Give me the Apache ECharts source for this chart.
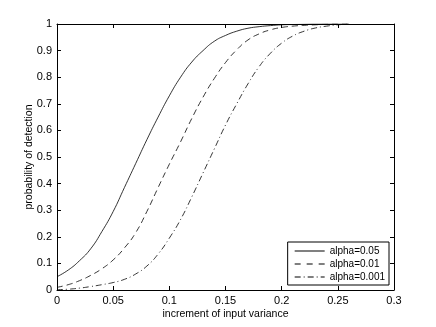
<!DOCTYPE html>
<html>
<head>
<meta charset="utf-8">
<title>probability of detection</title>
<script src="https://cdn.jsdelivr.net/npm/echarts@6/dist/echarts.min.js"></script>
<style>
  html, body { margin: 0; padding: 0; background: #fff; }
  #chart { width: 436px; height: 327px; }
</style>
</head>
<body>
<div id="chart"></div>
<script>
// increment of input variance
var xVals = [0, 0.01, 0.02, 0.03, 0.04, 0.05, 0.06, 0.07, 0.08, 0.09, 0.10, 0.11, 0.12, 0.13,
             0.14, 0.15, 0.16, 0.17, 0.18, 0.19, 0.20, 0.21, 0.22, 0.23, 0.24, 0.25, 0.26];

// probability of detection
var alpha005 = [0.05, 0.075, 0.11, 0.155, 0.22, 0.295, 0.385, 0.475, 0.565, 0.65, 0.73, 0.80, 0.857, 0.90,
                0.935, 0.957, 0.973, 0.984, 0.99, 0.994, 0.997, 0.998, 0.999, 1, 1, 1, 1];
var alpha001 = [0.01, 0.02, 0.035, 0.055, 0.08, 0.113, 0.158, 0.215, 0.295, 0.385, 0.473, 0.557, 0.645, 0.725,
                0.795, 0.855, 0.903, 0.94, 0.963, 0.978, 0.987, 0.992, 0.995, 0.997, 0.999, 1, 1];
var alpha0001 = [0.001, 0.003, 0.007, 0.013, 0.02, 0.028, 0.04, 0.06, 0.09, 0.135, 0.195, 0.265, 0.35, 0.44,
                 0.53, 0.62, 0.70, 0.775, 0.84, 0.89, 0.928, 0.955, 0.973, 0.985, 0.992, 0.997, 1];

var seriesNames = ['alpha=0.05', 'alpha=0.01', 'alpha=0.001'];
var xTicks = ['0', '0.05', '0.1', '0.15', '0.2', '0.25', '0.3'];
var yTicks = ['0', '0.1', '0.2', '0.3', '0.4', '0.5', '0.6', '0.7', '0.8', '0.9', '1'];

// legend line samples (30 x 1 strips: solid, dashed, dash-dot)
var legendIcons = [
    'path://M0 0H30V1H0Z',
    'path://M0 0H6V1H0Z M12 0H18V1H12Z M24 0H30V1H24Z',
    'path://M0 0H6V1H0Z M9 0H10V1H9Z M13 0H19V1H13Z M22 0H23V1H22Z M26 0H30V1H26Z'
];

function pairs(ys) {
    return xVals.map(function (x, i) { return [x, ys[i]]; });
}

var font = 'Liberation Sans, Arial, sans-serif';
var tickStyle = { show: true, inside: true, length: 4, lineStyle: { color: '#000', width: 1 } };

var chart = echarts.init(document.getElementById('chart'), null, { renderer: 'canvas' });

var option = {
    animation: false,
    backgroundColor: '#fff',
    grid: { left: 57, right: 42, top: 24, bottom: 37, containLabel: false },
    xAxis: [{
        type: 'value', min: 0, max: 0.3, interval: 0.05,
        name: 'increment of input variance', nameLocation: 'middle', nameGap: 19,
        nameMoveOverlap: false,
        nameTextStyle: { fontFamily: font, fontSize: 10.5, color: '#000' },
        axisLine: { show: true, lineStyle: { color: '#000', width: 1 } },
        axisTick: tickStyle,
        axisLabel: { fontFamily: font, fontSize: 11, color: '#000', margin: 5,
                     formatter: function (v) { return xTicks[Math.round(v / 0.05)]; } },
        splitLine: { show: false }
    }, {
        type: 'value', min: 0, max: 0.3, interval: 0.05, position: 'top',
        axisLine: { show: true, onZero: false, lineStyle: { color: '#000', width: 1 } },
        axisTick: tickStyle,
        axisLabel: { show: false },
        splitLine: { show: false }
    }],
    yAxis: [{
        type: 'value', min: 0, max: 1, interval: 0.1,
        name: 'probability of detection', nameLocation: 'middle', nameGap: 22,
        nameMoveOverlap: false,
        nameTextStyle: { fontFamily: font, fontSize: 10.5, color: '#000' },
        axisLine: { show: true, lineStyle: { color: '#000', width: 1 } },
        axisTick: tickStyle,
        axisLabel: { fontFamily: font, fontSize: 11, color: '#000', margin: 5,
                     formatter: function (v) { return yTicks[Math.round(v * 10)]; } },
        splitLine: { show: false }
    }, {
        type: 'value', min: 0, max: 1, interval: 0.1, position: 'right',
        axisLine: { show: true, onZero: false, lineStyle: { color: '#000', width: 1 } },
        axisTick: tickStyle,
        axisLabel: { show: false },
        splitLine: { show: false }
    }],
    legend: {
        orient: 'vertical', right: 47, bottom: 42,
        data: seriesNames.map(function (n, i) { return { name: n, icon: legendIcons[i] }; }),
        itemWidth: 30, itemHeight: 1, itemGap: 1,
        padding: [3, 4, 2, 7],
        borderColor: '#000', borderWidth: 1, borderRadius: 0,
        backgroundColor: '#fff',
        textStyle: { fontFamily: font, fontSize: 10, color: '#000', lineHeight: 12 }
    },
    series: [{
        name: seriesNames[0], type: 'line', smooth: true, showSymbol: false, symbol: 'none',
        data: pairs(alpha005),
        lineStyle: { color: '#000', width: 0.8, type: 'solid' },
        itemStyle: { color: '#000' }
    }, {
        name: seriesNames[1], type: 'line', smooth: true, showSymbol: false, symbol: 'none',
        data: pairs(alpha001),
        lineStyle: { color: '#000', width: 0.8, type: [6, 4] },
        itemStyle: { color: '#000' }
    }, {
        name: seriesNames[2], type: 'line', smooth: true, showSymbol: false, symbol: 'none',
        data: pairs(alpha0001),
        lineStyle: { color: '#000', width: 0.8, type: [6, 3, 1, 3] },
        itemStyle: { color: '#000' }
    }]
};

chart.setOption(option);
</script>
</body>
</html>
